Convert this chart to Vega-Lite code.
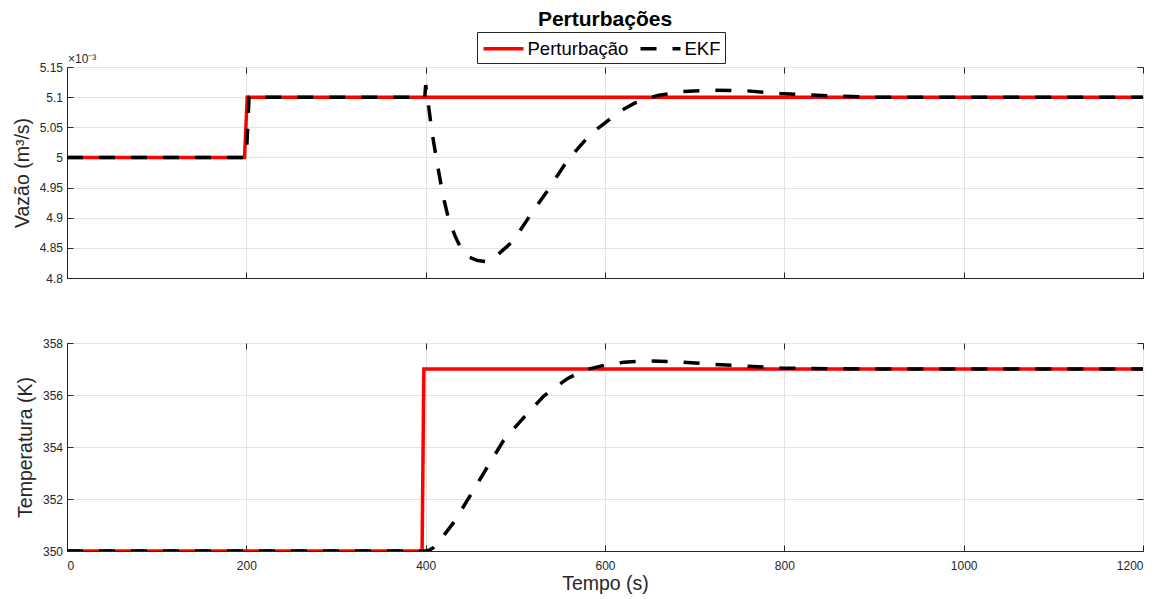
{
  "$schema": "https://vega.github.io/schema/vega-lite/v6.json",
  "padding": {"left": 11, "top": 8, "right": 8, "bottom": 5},
  "background": "white",
  "config": {
    "font": "Liberation Sans",
    "view": {"stroke": "#262626", "strokeWidth": 1},
    "axis": {
      "labelFont": "Liberation Sans",
      "labelFontSize": 12,
      "labelColor": "#262626",
      "titleFont": "Liberation Sans",
      "titleFontSize": 19.5,
      "titleFontWeight": "normal",
      "titleColor": "#262626",
      "domainColor": "#262626",
      "tickColor": "#262626",
      "gridColor": "#e3e3e3",
      "tickSize": -6
    },
    "axisX": {"labelPadding": 15},
    "axisY": {"labelPadding": 10.5}
  },
  "datasets": {
    "vazao": [
      {"t": 0, "v": 5.0, "serie": "Perturbação"},
      {"t": 198, "v": 5.0, "serie": "Perturbação"},
      {"t": 201, "v": 5.1, "serie": "Perturbação"},
      {"t": 1200, "v": 5.1, "serie": "Perturbação"},
      {"t": 0, "v": 5.0, "serie": "EKF"},
      {"t": 200, "v": 5.0, "serie": "EKF"},
      {"t": 203, "v": 5.1, "serie": "EKF"},
      {"t": 399, "v": 5.1, "serie": "EKF"},
      {"t": 400, "v": 5.12, "serie": "EKF"},
      {"t": 402, "v": 5.1, "serie": "EKF"},
      {"t": 407, "v": 5.042, "serie": "EKF"},
      {"t": 413, "v": 4.989, "serie": "EKF"},
      {"t": 419, "v": 4.939, "serie": "EKF"},
      {"t": 426, "v": 4.895, "serie": "EKF"},
      {"t": 433, "v": 4.869, "serie": "EKF"},
      {"t": 439, "v": 4.85, "serie": "EKF"},
      {"t": 448, "v": 4.835, "serie": "EKF"},
      {"t": 458, "v": 4.829, "serie": "EKF"},
      {"t": 468, "v": 4.827, "serie": "EKF"},
      {"t": 480, "v": 4.838, "serie": "EKF"},
      {"t": 498, "v": 4.862, "serie": "EKF"},
      {"t": 517, "v": 4.905, "serie": "EKF"},
      {"t": 536, "v": 4.945, "serie": "EKF"},
      {"t": 558, "v": 4.995, "serie": "EKF"},
      {"t": 584, "v": 5.039, "serie": "EKF"},
      {"t": 599, "v": 5.056, "serie": "EKF"},
      {"t": 617, "v": 5.077, "serie": "EKF"},
      {"t": 633, "v": 5.09, "serie": "EKF"},
      {"t": 647, "v": 5.098, "serie": "EKF"},
      {"t": 660, "v": 5.103, "serie": "EKF"},
      {"t": 684, "v": 5.109, "serie": "EKF"},
      {"t": 721, "v": 5.1115, "serie": "EKF"},
      {"t": 758, "v": 5.1105, "serie": "EKF"},
      {"t": 795, "v": 5.106, "serie": "EKF"},
      {"t": 850, "v": 5.102, "serie": "EKF"},
      {"t": 900, "v": 5.1, "serie": "EKF"},
      {"t": 1200, "v": 5.1, "serie": "EKF"}
    ],
    "temperatura": [
      {"t": 0, "v": 350, "serie": "Perturbação"},
      {"t": 396, "v": 350, "serie": "Perturbação"},
      {"t": 398, "v": 357, "serie": "Perturbação"},
      {"t": 1200, "v": 357, "serie": "Perturbação"},
      {"t": 0, "v": 350, "serie": "EKF"},
      {"t": 400, "v": 350, "serie": "EKF"},
      {"t": 404, "v": 350.03, "serie": "EKF"},
      {"t": 409, "v": 350.14, "serie": "EKF"},
      {"t": 415, "v": 350.36, "serie": "EKF"},
      {"t": 432, "v": 351.13, "serie": "EKF"},
      {"t": 450, "v": 352.15, "serie": "EKF"},
      {"t": 469, "v": 353.24, "serie": "EKF"},
      {"t": 487, "v": 354.26, "serie": "EKF"},
      {"t": 510, "v": 355.16, "serie": "EKF"},
      {"t": 532, "v": 355.97, "serie": "EKF"},
      {"t": 558, "v": 356.63, "serie": "EKF"},
      {"t": 576, "v": 356.95, "serie": "EKF"},
      {"t": 599, "v": 357.14, "serie": "EKF"},
      {"t": 621, "v": 357.26, "serie": "EKF"},
      {"t": 647, "v": 357.31, "serie": "EKF"},
      {"t": 684, "v": 357.27, "serie": "EKF"},
      {"t": 721, "v": 357.18, "serie": "EKF"},
      {"t": 758, "v": 357.11, "serie": "EKF"},
      {"t": 796, "v": 357.04, "serie": "EKF"},
      {"t": 850, "v": 357.01, "serie": "EKF"},
      {"t": 900, "v": 357, "serie": "EKF"},
      {"t": 1200, "v": 357, "serie": "EKF"}
    ]
  },
  "vconcat": [
    {
      "width": 1076,
      "height": 211,
      "title": {"text": "Perturbações", "fontSize": 21, "fontWeight": "bold", "color": "#000000", "frame": "group", "anchor": "middle", "offset": 2},
      "data": {"name": "vazao"},
      "layer": [
        {
          "transform": [{"filter": "datum.serie === 'Perturbação'"}],
          "mark": {"type": "line", "strokeWidth": 3.5, "clip": true},
          "encoding": {
            "x": {"field": "t", "type": "quantitative", "scale": {"domain": [0, 1200], "nice": false},
                  "axis": {"values": [0, 200, 400, 600, 800, 1000, 1200], "labels": false, "title": null, "grid": true}},
            "y": {"field": "v", "type": "quantitative", "scale": {"domain": [4.8, 5.15], "nice": false, "zero": false},
                  "axis": {"values": [4.8, 4.85, 4.9, 4.95, 5.0, 5.05, 5.1, 5.15], "format": ".2~f", "title": "Vazão (m³/s)", "titlePadding": 7, "grid": true}},
            "color": {"field": "serie", "type": "nominal",
                      "scale": {"domain": ["Perturbação", "EKF"], "range": ["#ff0000", "#000000"]},
                      "legend": {"orient": "none", "legendX": 410, "legendY": -35, "direction": "horizontal", "title": null,
                                 "symbolType": "M-2,0H2", "symbolSize": 400, "symbolStrokeWidth": 3.5, "symbolOffset": 10,
                                 "labelFontSize": 18.5, "labelColor": "#000000", "labelFont": "Liberation Sans",
                                 "strokeColor": "#262626", "fillColor": "white", "padding": 4.5, "columnPadding": 5, "labelOffset": 12}},
            "strokeDash": {"field": "serie", "type": "nominal",
                           "scale": {"domain": ["Perturbação", "EKF"], "range": [[1, 0], [16, 16]]}}
          }
        },
        {
          "transform": [{"filter": "datum.serie === 'EKF'"}],
          "mark": {"type": "line", "strokeWidth": 3.5, "clip": true},
          "encoding": {
            "x": {"field": "t", "type": "quantitative",
                  "axis": {"orient": "top", "values": [0, 200, 400, 600, 800, 1000, 1200], "labels": false, "title": null, "grid": false, "domain": false}},
            "y": {"field": "v", "type": "quantitative",
                  "axis": {"orient": "right", "values": [4.8, 4.85, 4.9, 4.95, 5.0, 5.05, 5.1, 5.15], "labels": false, "title": null, "grid": false, "domain": false}},
            "color": {"field": "serie", "type": "nominal"},
            "strokeDash": {"field": "serie", "type": "nominal"}
          }
        },
        {
          "data": {"values": [{"rotulo": "×10⁻³"}]},
          "mark": {"type": "text", "align": "left", "baseline": "bottom", "dx": 1, "dy": -1, "fontSize": 12, "color": "#262626"},
          "encoding": {
            "x": {"datum": 0, "type": "quantitative", "axis": null},
            "y": {"datum": 5.15, "type": "quantitative", "axis": null},
            "text": {"field": "rotulo"}
          }
        }
      ],
      "resolve": {"axis": {"x": "independent", "y": "independent"}}
    },
    {
      "width": 1076,
      "height": 208,
      "data": {"name": "temperatura"},
      "layer": [
        {
          "transform": [{"filter": "datum.serie === 'Perturbação'"}],
          "mark": {"type": "line", "strokeWidth": 3.5, "clip": true},
          "encoding": {
            "x": {"field": "t", "type": "quantitative", "scale": {"domain": [0, 1200], "nice": false},
                  "axis": {"values": [0, 200, 400, 600, 800, 1000, 1200], "format": "d", "title": "Tempo (s)", "titlePadding": 3, "grid": true}},
            "y": {"field": "v", "type": "quantitative", "scale": {"domain": [350, 358], "nice": false, "zero": false},
                  "axis": {"values": [350, 352, 354, 356, 358], "title": "Temperatura (K)", "titlePadding": 7, "grid": true}},
            "color": {"field": "serie", "type": "nominal",
                      "scale": {"domain": ["Perturbação", "EKF"], "range": ["#ff0000", "#000000"]}, "legend": null},
            "strokeDash": {"field": "serie", "type": "nominal",
                           "scale": {"domain": ["Perturbação", "EKF"], "range": [[1, 0], [16, 16]]}, "legend": null}
          }
        },
        {
          "transform": [{"filter": "datum.serie === 'EKF'"}],
          "mark": {"type": "line", "strokeWidth": 3.5, "clip": true},
          "encoding": {
            "x": {"field": "t", "type": "quantitative",
                  "axis": {"orient": "top", "values": [0, 200, 400, 600, 800, 1000, 1200], "labels": false, "title": null, "grid": false, "domain": false}},
            "y": {"field": "v", "type": "quantitative",
                  "axis": {"orient": "right", "values": [350, 352, 354, 356, 358], "labels": false, "title": null, "grid": false, "domain": false}},
            "color": {"field": "serie", "type": "nominal", "legend": null},
            "strokeDash": {"field": "serie", "type": "nominal", "legend": null}
          }
        }
      ],
      "resolve": {"axis": {"x": "independent", "y": "independent"}}
    }
  ],
  "spacing": 51,
  "resolve": {
    "scale": {"color": "independent", "strokeDash": "independent"},
    "legend": {"color": "independent", "strokeDash": "independent"}
  }
}
